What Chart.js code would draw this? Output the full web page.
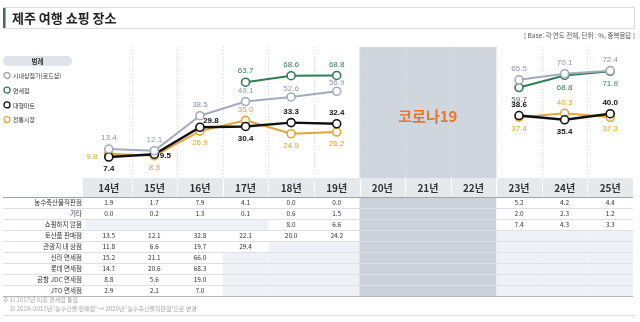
<!DOCTYPE html>
<html lang="ko">
<head>
<meta charset="utf-8">
<title>제주 여행 쇼핑 장소</title>
<script src="https://cdn.jsdelivr.net/npm/chart.js@4.4.1/dist/chart.umd.min.js"></script>
<style>
  html, body { margin: 0; padding: 0; background: #fff; }
  canvas { display: block; }
</style>
</head>
<body>
<canvas id="chart" width="640" height="322"></canvas>
<script>
// ===== data =====
const years = ['14년', '15년', '16년', '17년', '18년', '19년', '20년', '21년', '22년', '23년', '24년', '25년'];
const covidYears = ['20년', '21년', '22년'];

const cityShops   = [13.4, 12.1, 38.5, 49.1, 52.6, 56.9, null, null, null, 65.5, 70.1, 72.4];
const dutyFree    = [null, null, null, 63.7, 68.6, 68.8, null, null, null, 59.7, 68.8, 71.9];
const bigMarts    = [7.4, 9.5, 29.8, 30.4, 33.3, 32.4, null, null, null, 38.6, 35.4, 40.0];
const tradMarkets = [9.8, 8.3, 26.9, 35.0, 24.9, 26.2, null, null, null, 37.4, 40.3, 37.3];

const tableLabels = ['농수축산물직판점', '기타', '쇼핑하지 않음', '토산품 판매점', '관광지 내 상점',
                     '신라 면세점', '롯데 면세점', '공항 JDC 면세점', 'JTO 면세점'];
const rowDirect  = [1.9, 1.7, 7.9, 4.1, 0.0, 0.0, null, null, null, 5.2, 4.2, 4.4];
const rowEtc     = [0.0, 0.2, 1.3, 0.1, 0.6, 1.5, null, null, null, 2.0, 2.3, 1.2];
const rowNone    = [null, null, null, null, 8.0, 6.6, null, null, null, 7.4, 4.3, 3.3];
const rowLocal   = [13.5, 12.1, 32.8, 22.1, 20.0, 24.2, null, null, null, null, null, null];
const rowSights  = [11.8, 6.6, 19.7, 29.4, null, null, null, null, null, null, null, null];
const rowShilla  = [15.2, 21.1, 66.0, null, null, null, null, null, null, null, null, null];
const rowLotte   = [14.7, 20.6, 68.3, null, null, null, null, null, null, null, null, null];
const rowJdc     = [8.8, 5.6, 19.0, null, null, null, null, null, null, null, null, null];
const rowJto     = [2.9, 2.1, 7.0, null, null, null, null, null, null, null, null, null];
const tableRows = [rowDirect, rowEtc, rowNone, rowLocal, rowSights, rowShilla, rowLotte, rowJdc, rowJto];

const footnotes = ['주 1) 2017년 이후 면세점 통합',
                   "2) 2014~2017년 '농수산물 판매점' → 2020년 '농수축산물직판점'으로 변경"];

// ===== style =====
const KR = '"Noto Sans CJK KR", "Noto Sans", sans-serif';
const NUM = '"Liberation Sans", Arial, sans-serif';
const C = { gray: '#a2aabb', green: '#2f7d57', black: '#111111', orange: '#e2a53a' };
const LBL = { gray: '#8d96a8', green: '#2f7d57', black: '#111111', orange: '#d99f35' };

// label placement per point (style only)
const OFF = {
    top: [0, -11], topNear: [0, -8], bottom: [0, 12],
    left: [-17, 3], right: [11, 2], topRight: [11, -6]
};

const datasets = [
    { label: '시내상점가(로드샵)', data: cityShops, color: C.gray, lbl: LBL.gray, bold: false,
      pos: ['top', 'top', 'top', 'top', 'topNear', 'topNear', 0, 0, 0, 'top', 'top', 'top'] },
    { label: '면세점', data: dutyFree, color: C.green, lbl: LBL.green, bold: false,
      pos: [0, 0, 0, 'top', 'top', 'top', 0, 0, 0, 'bottom', 'bottom', 'bottom'] },
    { label: '대형마트', data: bigMarts, color: C.black, lbl: LBL.black, bold: true,
      pos: ['bottom', 'right', 'topRight', 'bottom', 'top', 'top', 0, 0, 0, 'top', 'bottom', 'top'] },
    { label: '전통시장', data: tradMarkets, color: C.orange, lbl: LBL.orange, bold: false,
      pos: ['left', 'bottom', 'bottom', 'top', 'bottom', 'bottom', 0, 0, 0, 'bottom', 'top', 'bottom'] }
];

// ===== decorations / table =====
const page = {
    id: 'page',
    beforeDraw(chart) {
        const ctx = chart.ctx;
        const x = chart.scales.x;
        const area = chart.chartArea;
        const w = (x.right - x.left) / years.length;
        const colL = i => x.left + i * w;
        ctx.save();
        ctx.fillStyle = '#fff';
        ctx.fillRect(0, 0, chart.width, chart.height);

        // title box
        ctx.strokeStyle = '#dcdcdc';
        ctx.lineWidth = 1;
        ctx.strokeRect(3.5, 7.5, 631, 21);
        ctx.fillStyle = '#3d6e57';
        ctx.fillRect(3, 8, 2.5, 20);
        ctx.fillStyle = '#222';
        ctx.font = 'bold 13px ' + KR;
        ctx.textBaseline = 'middle';
        ctx.textAlign = 'left';
        ctx.fillText('제주 여행 쇼핑 장소', 12, 18);

        ctx.font = '6.5px ' + KR;
        ctx.fillStyle = '#555';
        ctx.textAlign = 'right';
        ctx.fillText('[ Base: 각 연도 전체, 단위 : %, 중복응답 ]', 635, 36);

        // legend
        ctx.fillStyle = '#e0e3e7';
        ctx.beginPath();
        ctx.roundRect(3, 56, 69, 10, 5);
        ctx.fill();
        ctx.fillStyle = '#333';
        ctx.textAlign = 'center';
        ctx.font = 'bold 6.5px ' + KR;
        ctx.fillText('범례', 37.5, 61.5);
        ctx.textAlign = 'left';
        ctx.font = '6px ' + KR;
        datasets.forEach((d, i) => {
            const cy = 75.5 + i * 14.7;
            ctx.beginPath();
            ctx.arc(7, cy, 3, 0, Math.PI * 2);
            ctx.fillStyle = '#fff';
            ctx.fill();
            ctx.strokeStyle = d.color;
            ctx.lineWidth = 1.3;
            ctx.stroke();
            ctx.fillStyle = '#333';
            ctx.fillText(d.label, 13, cy + 0.5);
        });

        // covid band
        const c0 = years.indexOf(covidYears[0]);
        const c1 = years.indexOf(covidYears[covidYears.length - 1]) + 1;
        ctx.fillStyle = '#d0d6dd';
        ctx.fillRect(colL(c0), area.top, colL(c1) - colL(c0), area.bottom - area.top);

        // dotted column lines
        ctx.lineWidth = 1;
        ctx.setLineDash([1, 2]);
        for (let i = 1; i < years.length; i++) {
            const lx = Math.round(colL(i)) + 0.5;
            ctx.strokeStyle = (i > c0 && i < c1) ? '#dde1e6' : '#d9dde2';
            ctx.beginPath();
            ctx.moveTo(lx, area.top);
            ctx.lineTo(lx, area.bottom);
            ctx.stroke();
        }
        ctx.setLineDash([]);

        // table header
        const hTop = area.bottom, hBot = area.bottom + 19;
        ctx.fillStyle = '#e6e9ec';
        ctx.fillRect(x.left - 3, hTop, x.right - x.left + 3, hBot - hTop);
        ctx.strokeStyle = '#fff';
        for (let i = 1; i < years.length; i++) {
            const lx = Math.round(colL(i)) + 0.5;
            ctx.beginPath();
            ctx.moveTo(lx, hTop);
            ctx.lineTo(lx, hBot);
            ctx.stroke();
        }
        ctx.fillStyle = '#333';
        ctx.font = 'bold 10px ' + KR;
        ctx.textAlign = 'center';
        years.forEach((y, i) => ctx.fillText(y, x.getPixelForValue(i), hTop + 10));

        // table body
        const rh = 11;
        const bTop = hBot;
        tableRows.forEach((row, r) => {
            const ry = bTop + r * rh;
            row.forEach((v, i) => {
                if (v === null && (i < c0 || i >= c1)) {
                    ctx.fillStyle = '#eef1f5';
                    ctx.fillRect(colL(i), ry, w, rh);
                }
            });
        });
        ctx.fillStyle = '#cbd2da';
        ctx.fillRect(colL(c0), bTop, colL(c1) - colL(c0), rh * tableRows.length);

        ctx.strokeStyle = '#dde0e4';
        ctx.lineWidth = 1;
        for (let r = 1; r < tableRows.length; r++) {
            const ly = Math.round(bTop + r * rh) + 0.5;
            ctx.beginPath();
            ctx.moveTo(3, ly);
            ctx.lineTo(x.right, ly);
            ctx.stroke();
        }
        ctx.strokeStyle = '#9fa4aa';
        ctx.lineWidth = 1.2;
        ctx.beginPath();
        ctx.moveTo(3, bTop + 0.5);
        ctx.lineTo(x.right, bTop + 0.5);
        ctx.stroke();
        ctx.strokeStyle = '#b3b7bc';
        ctx.lineWidth = 1;
        const tBot = Math.round(bTop + rh * tableRows.length) + 0.5;
        ctx.beginPath();
        ctx.moveTo(3, tBot);
        ctx.lineTo(x.right, tBot);
        ctx.stroke();

        ctx.fillStyle = '#333';
        ctx.font = '6.5px ' + KR;
        tableLabels.forEach((lab, r) => {
            const cy = bTop + r * rh + rh / 2 + 0.5;
            ctx.textAlign = 'right';
            ctx.fillText(lab, x.left - 4, cy);
            ctx.textAlign = 'center';
            tableRows[r].forEach((v, i) => {
                if (v !== null) ctx.fillText(v.toFixed(1), x.getPixelForValue(i), cy);
            });
        });

        // footnotes
        ctx.fillStyle = '#a8a8a8';
        ctx.font = '6px ' + KR;
        ctx.textAlign = 'left';
        ctx.fillText(footnotes[0], 3, 300);
        ctx.fillText(footnotes[1], 10, 309);
        ctx.strokeStyle = '#e2e2e2';
        ctx.beginPath();
        ctx.moveTo(3, 315.5);
        ctx.lineTo(635, 315.5);
        ctx.stroke();

        // covid text
        ctx.fillStyle = '#e8762d';
        ctx.font = 'bold 15px ' + KR;
        ctx.textAlign = 'center';
        ctx.fillText('코로나19', (colL(c0) + colL(c1)) / 2, 116);
        ctx.restore();
    },
    afterDatasetsDraw(chart) {
        const ctx = chart.ctx;
        ctx.save();
        ctx.textAlign = 'center';
        ctx.textBaseline = 'middle';
        chart.data.datasets.forEach((ds, di) => {
            const d = datasets[di];
            const meta = chart.getDatasetMeta(di);
            ctx.font = (d.bold ? 'bold ' : '') + '8px ' + NUM;
            ctx.fillStyle = d.lbl;
            ds.data.forEach((v, i) => {
                if (v === null || !d.pos[i]) return;
                const pt = meta.data[i];
                const o = OFF[d.pos[i]];
                ctx.fillText(v.toFixed(1), pt.x + o[0], pt.y + o[1]);
            });
        });
        ctx.restore();
    }
};

new Chart(document.getElementById('chart'), {
    type: 'line',
    data: {
        labels: years,
        datasets: datasets.map(d => ({
            label: d.label,
            data: d.data,
            borderColor: d.color,
            borderWidth: d.color === C.black ? 2.4 : 2,
            pointRadius: 4,
            pointBorderWidth: 1.6,
            pointBackgroundColor: '#fff',
            pointBorderColor: d.color,
            spanGaps: false,
            tension: 0,
            clip: false
        }))
    },
    options: {
        responsive: false,
        animation: false,
        devicePixelRatio: 1,
        layout: { padding: { left: 86, right: 7, top: 47, bottom: 144 } },
        plugins: { legend: { display: false }, tooltip: { enabled: false } },
        scales: {
            x: { type: 'category', offset: true, display: false },
            y: { min: -8.4, max: 90.2, display: false }
        }
    },
    plugins: [page]
});
</script>
</body>
</html>
